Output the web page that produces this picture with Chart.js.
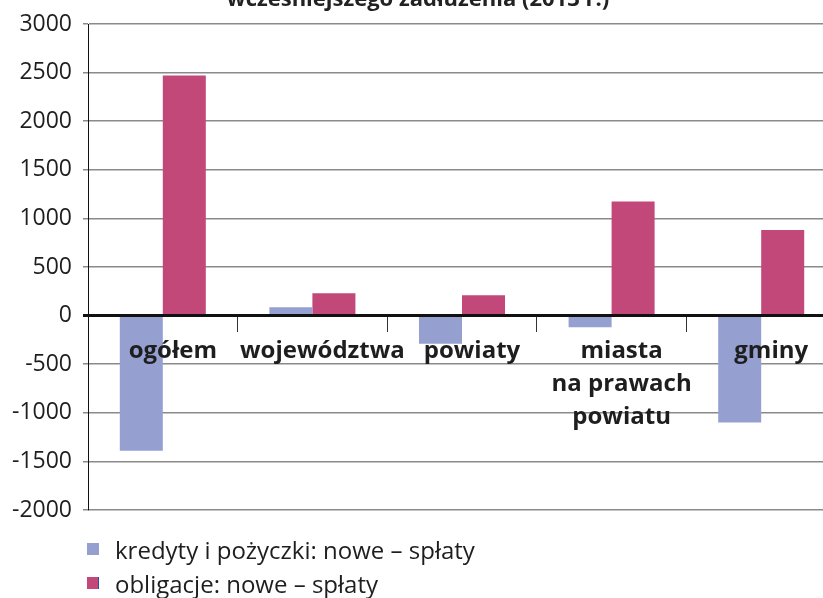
<!DOCTYPE html>
<html lang="pl">
<head>
<meta charset="utf-8">
<script src="https://cdn.jsdelivr.net/npm/chart.js@4"></script>
<style>
  html, body { margin: 0; padding: 0; background: #fff; overflow: hidden; width: 823px; height: 598px; }
  #wrap { position: absolute; left: 0; top: -13px; width: 845px; height: 611px; }
  #legend { position: absolute; left: 87px; top: 532px; font-family: "Open Sans", sans-serif; font-size: 24px; color: #1e1e1e; }
  .item { height: 34px; display: flex; align-items: center; white-space: nowrap; }
  .box { width: 12px; height: 12px; margin-right: 16px; box-sizing: border-box; }
</style>
</head>
<body>
<div id="wrap"><canvas id="chart" width="845" height="611"></canvas></div>
<div id="legend"></div>
<script>
// values
const categories = ['ogółem', 'województwa', 'powiaty', ['miasta', 'na prawach', 'powiatu'], 'gminy'];
const kredyty = [-1390, 85, -290, -120, -1100];
const obligacje = [2470, 230, 210, 1175, 880];
const seriesNames = ['kredyty i pożyczki: nowe – spłaty', 'obligacje: nowe – spłaty'];
const seriesColors = ['#95a0d0', '#c2487a'];
const yTicks = [3000, 2500, 2000, 1500, 1000, 500, 0, -500, -1000, -1500, -2000];
const titleText = 'wcześniejszego zadłużenia (2013 r.)';

const font = 'Open Sans';

const chart = new Chart(document.getElementById('chart'), {
    type: 'bar',
    data: {
        labels: categories,
        datasets: [
            {
                label: seriesNames[0],
                data: kredyty,
                backgroundColor: seriesColors[0],
                barPercentage: 1,
                categoryPercentage: 0.575
            },
            {
                label: seriesNames[1],
                data: obligacje,
                backgroundColor: seriesColors[1],
                barPercentage: 1,
                categoryPercentage: 0.575
            }
        ]
    },
    options: {
        responsive: false,
        animation: false,
        devicePixelRatio: 1,
        layout: { padding: { left: 0, right: 9, top: 0, bottom: 88 } },
        plugins: {
            legend: { display: false },
            tooltip: { enabled: false },
            title: {
                display: true,
                text: titleText,
                color: '#222',
                font: { family: font, size: 22, weight: 'bold', lineHeight: 1.2 },
                padding: { top: 0, bottom: 10.6 }
            }
        },
        scales: {
            y: {
                min: -2000,
                max: 3000,
                afterBuildTicks: function (scale) {
                    scale.ticks = yTicks.map(v => ({ value: v }));
                },
                afterFit: function (scale) {
                    scale.width = 88;
                },
                border: { color: '#111', width: 1 },
                grid: {
                    color: ctx => ctx.tick && ctx.tick.value === 0 ? '#111' : '#8a8a8a',
                    lineWidth: ctx => ctx.tick && ctx.tick.value === 0 ? 3 : 1.5,
                    tickLength: 5
                },
                ticks: {
                    color: '#1e1e1e',
                    padding: 11,
                    font: { family: font, size: 23 },
                    callback: v => String(v)
                }
            },
            x: {
                position: { y: 0 },
                offset: true,
                afterFit: function (scale) {
                    scale.height = 0;
                },
                border: { color: '#111', width: 3, z: 1 },
                grid: {
                    offset: true,
                    drawOnChartArea: false,
                    tickLength: 15,
                    color: '#333',
                    lineWidth: 1
                },
                ticks: {
                    z: 1,
                    color: '#1e1e1e',
                    padding: 4,
                    labelOffset: 10,
                    maxRotation: 0,
                    autoSkip: false,
                    font: { family: font, size: 24, weight: 'bold', lineHeight: 1.375 }
                }
            }
        }
    }
});

// legend, one entry per line
const legend = document.getElementById('legend');
chart.data.datasets.forEach(function (ds, i) {
    const item = document.createElement('div');
    item.className = 'item';
    const box = document.createElement('span');
    box.className = 'box';
    box.style.background = ds.backgroundColor;
    if (i === 1) box.style.borderRight = '1px solid #2b4fa0';
    const text = document.createElement('span');
    text.textContent = ds.label;
    item.appendChild(box);
    item.appendChild(text);
    legend.appendChild(item);
});
</script>
</body>
</html>
